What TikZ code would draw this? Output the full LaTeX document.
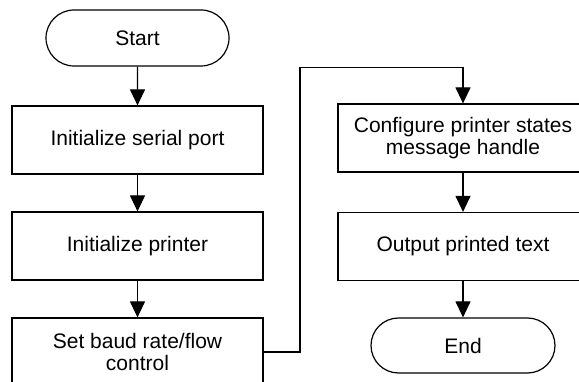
\documentclass[tikz,border=0pt]{standalone}
\usepackage{fontspec}
\setmainfont{Liberation Sans}
\usetikzlibrary{arrows.meta,shapes.misc}
\begin{document}
\begin{tikzpicture}[x=1pt,y=-1pt,
    every node/.style={font=\fontsize{21}{22.5}\selectfont,align=center,inner sep=0pt},
    stepbox/.style={draw,line width=1.2pt,minimum width=251pt,minimum height=68pt},
    termbox/.style={draw,line width=1.2pt,rounded rectangle,minimum width=183pt,minimum height=56pt},
    flow/.style={line width=1.2pt,-{Triangle[width=15pt,length=16pt]}}]
      \useasboundingbox (0,0) rectangle (579,382);
      \clip (0,0) rectangle (579,382);
      \draw
        (137.5,38) node[termbox] (start){Start}
        (137.5,140) node[stepbox] (serial){Initialize serial port}
        (137.5,246) node[stepbox] (printer){Initialize printer}
        (137.5,352) node[stepbox] (baud){Set baud rate/flow\\control}
        (463,138) node[stepbox,minimum width=250pt] (config){Configure printer states\\message handle}
        (463,246.5) node[stepbox,minimum width=250pt] (output){Output printed text}
        (463,345.5) node[termbox,minimum width=184pt,minimum height=55pt] (end){End};
      \coordinate (turn) at (300,67.5);
      \begin{scope}[flow]
        \draw (start) to (serial);
        \draw (serial) to (printer);
        \draw (printer) to (baud);
        \draw (baud.east) -| (turn) -| (config.north);
        \draw (config) to (output);
        \draw (output) to (end);
      \end{scope}
    \end{tikzpicture}
\end{document}
